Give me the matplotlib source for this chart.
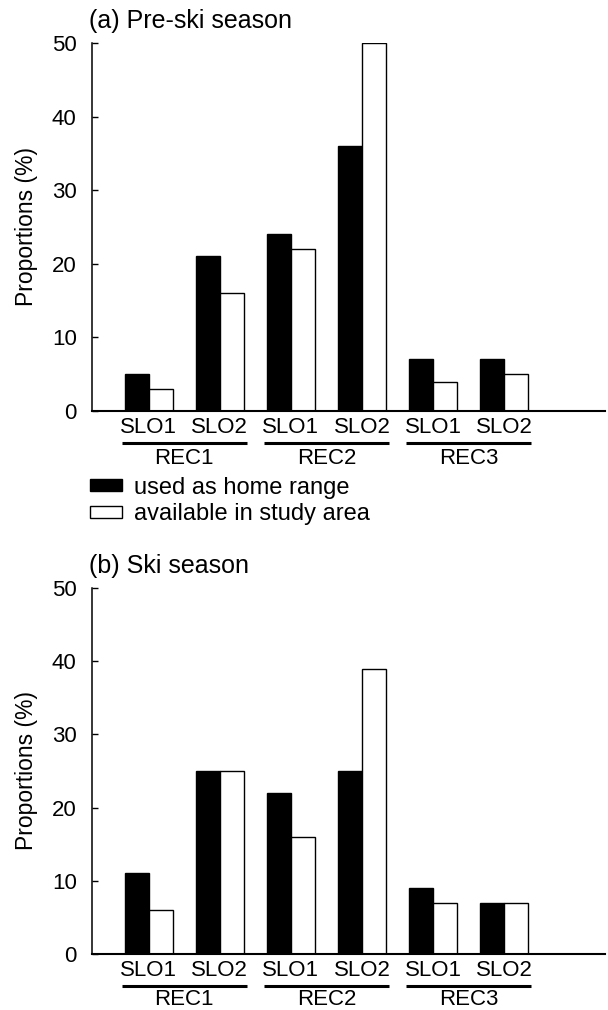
import numpy as np
from matplotlib import pyplot as plt
from matplotlib.patches import Patch

plt.rcParams['font.family'] = ['Liberation Sans', 'DejaVu Sans']

slopes = ['SLO1', 'SLO2'] * 3
recs = ['REC1', 'REC2', 'REC3']
pre_used = [5, 21, 24, 36, 7, 7]
pre_avail = [3, 16, 22, 50, 4, 5]
ski_used = [11, 25, 22, 25, 9, 7]
ski_avail = [6, 25, 16, 39, 7, 7]
titles = ['(a) Pre-ski season', '(b) Ski season']

fs = 16
w = 0.335
x = np.arange(1, 7)

fig = plt.figure(figsize=(6.08, 10.10), dpi=100)
ax1 = fig.add_axes([92/608, 1-411/1010, 513/608, 368/1010])
ax2 = fig.add_axes([92/608, 1-954/1010, 513/608, 366/1010])

def panel(ax, used, avail, title, rec_y):
    ax.bar(x - w/2, used, w, color='black', edgecolor='black', linewidth=1)
    ax.bar(x + w/2, avail, w, color='white', edgecolor='black', linewidth=1)
    ax.set_xlim(0.2, 7.42)
    ax.set_ylim(0, 50)
    ax.set_yticks([0, 10, 20, 30, 40, 50])
    ax.set_xticks([])
    for s in ['top', 'right']:
        ax.spines[s].set_visible(False)
    ax.spines['left'].set_bounds(0, 50)
    ax.spines['left'].set_linewidth(1.1)
    ax.spines['bottom'].set_linewidth(1.5)
    ax.tick_params(axis='y', direction='in', length=4, width=1, pad=11, labelsize=fs)
    ax.set_ylabel('Proportions (%)', fontsize=fs + 0.5, labelpad=10)
    ax.text(-0.006, 1.06, title, transform=ax.transAxes, fontsize=18, ha='left', va='center')
    tr = ax.get_xaxis_transform()
    for xi, s in zip(x, slopes):
        ax.text(xi, -0.045, s, transform=tr, ha='center', va='center', fontsize=fs)
    for i, r in enumerate(recs):
        c = 1.5 + 2*i
        ax.plot([c - 0.88, c + 0.88], [-0.088, -0.088], transform=tr, color='black',
                linewidth=2.2, clip_on=False, solid_capstyle='butt')
        ax.text(c, rec_y, r, transform=tr, ha='center', va='center', fontsize=fs)

panel(ax1, pre_used, pre_avail, titles[0], -0.128)
panel(ax2, ski_used, ski_avail, titles[1], -0.124)

handles = [Patch(facecolor='black', edgecolor='black', linewidth=1, label='used as home range'),
           Patch(facecolor='white', edgecolor='black', linewidth=1, label='available in study area')]
fig.legend(handles=handles, loc='center left', bbox_to_anchor=(90/608, 1-501/1010),
           frameon=False, fontsize=17, handlelength=1.35, handleheight=0.42,
           handletextpad=0.5, labelspacing=0.2, borderpad=0, borderaxespad=0)

fig.savefig('out.png', dpi=100)
